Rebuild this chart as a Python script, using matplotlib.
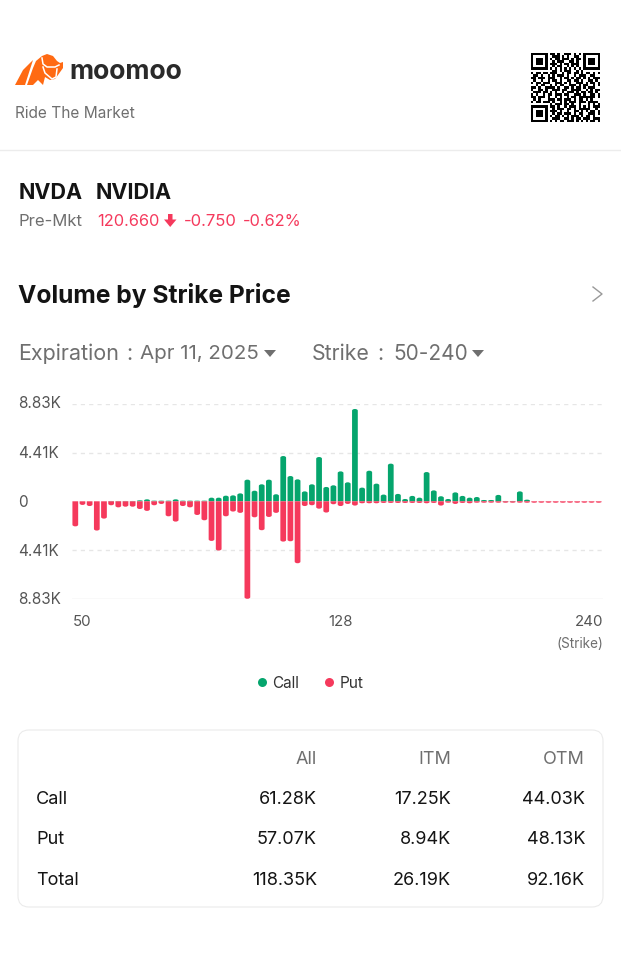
import matplotlib
matplotlib.use('Agg')
import matplotlib.pyplot as plt
import numpy as np
from matplotlib.patches import FancyBboxPatch, PathPatch, Polygon
from matplotlib.path import Path

plt.rcParams['font.family'] = ['Inter', 'Noto Sans CJK SC', 'DejaVu Sans']

GREEN = '#05A56D'
RED = '#F5395C'
DARK = '#141414'
GREY = '#6f6f6f'

# volumes in K, one entry per strike bar
call_vol = [0, 0, 0, 0, 0, .03, .03, .03, .03, .09, .18, .06, .06, .06, .18, .06, .06, .06, .06,
            .33, .33, .51, .54, .72, 1.96, .96, 1.54, 1.96, .64, 4.10, 2.29, 1.99, .90, 1.54, 4.01,
            1.30, 1.45, 2.71, 1.72, 8.36, 1.24, 2.77, 1.60, .61, 3.41, .67, .21, .49, .33, 2.65,
            .99, .46, .21, .81, .49, .33, .39, .12, .12, .58, .03, .03, .90, .15,
            0, 0, 0, 0, 0, 0, 0, 0, 0, 0]
put_vol = [2.27, .33, .43, 2.65, 1.57, .36, .55, .49, .49, .70, .87, .36, .24, 1.36, 1.84, .43, .55,
           1.24, 1.72, 3.59, 4.46, 1.36, .93, 1.05, 8.83, 1.45, 2.62, 1.42, 1.05, 3.65, 3.62, 5.61,
           .43, .36, .67, 1.02, .27, .43, .24, .39, .18, .18, .18, .15, .15, .15, .15, .15, .15, .18,
           .15, .39, .13, .24, .15, .18, .13, .13, .13, .13, .13, .13, .13, .13,
           .13, .13, .13, .13, .13, .13, .13, .13, .13, .13]
y_ticks = [8.83, 4.41, 0, -4.41, -8.83]
y_labels = ['8.83K', '4.41K', '0', '4.41K', '8.83K']

table_cols = ['All', 'ITM', 'OTM']
table_rows = ['Call', 'Put', 'Total']
table_vals = [['61.28K', '17.25K', '44.03K'],
              ['57.07K', '8.94K', '48.13K'],
              ['118.35K', '26.19K', '92.16K']]

qr_rows = [
    '#######.##.#..###.#.#.#######',
    '#.....#..###.#.#..##..#.....#',
    '#.###.#.#.##.###.#.##.#.###.#',
    '#.###.#..#.###..##.#..#.###.#',
    '#.###.#.###.#.##.###..#.###.#',
    '#.....#..#.##..#.#.#..#.....#',
    '#######.#.#.#.#.#.#.#.#######',
    '.........##.#.###..#.#.......',
    '#.##.##.###..#.##.##.#.##.#.#',
    '.##.#..#.#.###.#..#.###..##..',
    '##.###.###..#.##.#.##.#.#.###',
    '.#..#..#.##.#..##.##.#..##.#.',
    '#.##.###..###.#.#..###.#.##.#',
    '..#.##..#.#.##..###.#.##..#.#',
    '##.#..####.#..##.#.##.#.###..',
    '#..##.#..###.##..####..#.#.##',
    '.###.##.#.#..#.###.#.##.##.#.',
    '#.#..#.##.###.##..###.#..##.#',
    '##.###.#..#.#..#.##.#######.#',
    '.#.#...###.##.###.#.##.#.#...',
    '#.##.###.#..#.#.###.###.####.',
    '........#.###.##.#..#...#.#.#',
    '#######.##.#..#.###.#.#.#.###',
    '#.....#..#.###.##.#.#####..#.',
    '#.###.#.###.#..#..##.#.#.##.#',
    '#.###.#..#.##.###.#.##..###.#',
    '#.###.#.#.##.#.#.###.#.##.#..',
    '#.....#..###..##.#.##.###.###',
    '#######.#.#.##.###.#.#.#.##.#',
]

# logo outlines, in pixels of the figure
logo_leg = [(15, 85), (23, 70), (33, 60), (25, 85)]
logo_body = [(27, 85), (33, 68), (36, 61), (42, 56), (47, 54), (53, 56), (57, 61), (60, 63), (63, 62),
             (63, 68), (58, 75), (55, 79), (50, 80), (45, 77), (43, 85), (38, 80), (33, 85)]
logo_line1 = [(42, 58), (43, 64), (47, 67), (55, 67), (59, 65)]
logo_line2 = [(43, 67), (45, 73), (52, 79), (56, 77), (57, 69)]


def rounded_bar(ax, x, h, color, half=0.4, ry_max=0.25):
    # bar from 0 to h, outer end rounded
    if h == 0:
        return
    ry = min(abs(h), ry_max) * np.sign(h) * 0.6
    verts = [(x - half, 0), (x - half, h - ry), (x - half, h), (x, h), (x + half, h), (x + half, h - ry),
             (x + half, 0), (x - half, 0)]
    codes = [Path.MOVETO, Path.LINETO, Path.CURVE3, Path.CURVE3, Path.CURVE3, Path.CURVE3, Path.LINETO,
             Path.CLOSEPOLY]
    ax.add_patch(PathPatch(Path(verts, codes), facecolor=color, edgecolor='none', zorder=3))


W, H = 621, 955
fig = plt.figure(figsize=(W / 100, H / 100), dpi=100, facecolor='white')

# page layer, works in pixels
page = fig.add_axes([0, 0, 1, 1])
page.axis('off')

qr = np.array([[0 if c == '#' else 1 for c in r[:29].ljust(29, '.')] for r in qr_rows])
page.imshow(qr, cmap='gray', extent=(531, 600, 122, 53), aspect='auto', interpolation='nearest')
page.set_xlim(0, W)
page.set_ylim(H, 0)

page.add_patch(Polygon(logo_leg, color='#FF6A13', lw=0))
page.add_patch(Polygon(logo_body, color='#FF6A13', lw=0))
page.plot(*zip(*logo_line1), color='white', lw=1.1, solid_joinstyle='round')
page.plot(*zip(*logo_line2), color='white', lw=1.1, solid_joinstyle='round')
page.text(69, 72, 'moomoo', fontsize=19, fontweight='bold', color='#2a2a2a', va='center')
page.text(15, 113, 'Ride The Market', fontsize=11.1, color=GREY, va='center')
page.plot([0, W], [150, 150], color='#ececec', lw=1)

page.text(19, 193, 'NVDA', fontsize=15.5, fontweight='bold', color=DARK, va='center')
page.text(96, 193, 'NVIDIA', fontsize=15.5, fontweight='bold', color=DARK, va='center')
page.text(19, 221, 'Pre-Mkt', fontsize=12, color=GREY, va='center')
page.text(97, 221, '120.660', fontsize=11.8, color=RED, va='center')
page.add_patch(Polygon([(168, 214), (172.5, 214), (172.5, 219.5), (176.5, 219.5), (170.2, 227), (164, 219.5), (168, 219.5)],
                       color=RED, lw=0))
page.text(184, 221, '-0.750', fontsize=12, color=RED, va='center')
page.text(243, 221, '-0.62%', fontsize=11.8, color=RED, va='center')

page.text(18, 295, 'Volume by Strike Price', fontsize=17.7, fontweight='bold', color=DARK, va='center')
page.plot([593, 602, 593], [287, 294, 301], color='#999999', lw=1)

page.text(18, 354, 'Expiration', fontsize=15.5, color=GREY, va='center')
page.text(129, 354, ':', fontsize=15.5, color=GREY, va='center', ha='center')
page.text(140, 354, 'Apr 11, 2025', fontsize=14.8, color=GREY, va='center')
page.text(312, 354, 'Strike', fontsize=15.3, color=GREY, va='center')
page.text(380, 354, ':', fontsize=15.5, color=GREY, va='center', ha='center')
page.text(393, 354, '50-240', fontsize=15, color=GREY, va='center')
page.add_patch(Polygon([(264, 350), (276, 350), (270, 357)], color=GREY, lw=0))
page.add_patch(Polygon([(472, 350), (484, 350), (478, 357)], color=GREY, lw=0))

# chart
ax = fig.add_axes([72 / W, 1 - 598.8 / H, (603 - 72) / W, 195 / H])
ax.set_xlim(-0.46, 73.6)
ax.set_ylim(-8.83, 8.83)
ax.axis('off')
for t in y_ticks[:2] + y_ticks[3:4]:
    ax.axhline(t, color='#e6e6e6', lw=1, dashes=(3, 3), zorder=1)
ax.axhline(-8.83, color='#e2e2e2', lw=1, zorder=1)
for i in range(len(call_vol)):
    rounded_bar(ax, i, call_vol[i], GREEN)
    rounded_bar(ax, i, -put_vol[i], RED)

for lab, y in zip(y_labels, [403, 453, 502, 551, 599]):
    page.text(18, y, lab, fontsize=11, color='#555555', va='center')
page.text(73, 622, '50', fontsize=10.8, color='#555555', va='center')
page.text(341, 622, '128', fontsize=10.8, color='#555555', va='center', ha='center')
page.text(603, 622, '240', fontsize=10.8, color='#555555', va='center', ha='right')
page.text(603, 644, '(Strike)', fontsize=9.8, color=GREY, va='center', ha='right')

page.scatter([262], [682], s=42, color=GREEN, lw=0)
page.text(272, 683, 'Call', fontsize=11, color='#333333', va='center')
page.scatter([329], [682], s=42, color=RED, lw=0)
page.text(340, 683, 'Put', fontsize=11, color='#333333', va='center')

# table
page.add_patch(FancyBboxPatch((18, 730), 585, 177, boxstyle='round,pad=0,rounding_size=11',
                              facecolor='white', edgecolor='#ebebeb', lw=0.8))
col_x = [317, 451, 585]
row_y = [799, 839, 880]
for x, name in zip(col_x, table_cols):
    page.text(x, 759, name, fontsize=13, color=GREY, va='center', ha='right')
for y, name, vals in zip(row_y, table_rows, table_vals):
    page.text(36, y, name, fontsize=13, color=DARK, va='center')
    for x, v in zip(col_x, vals):
        page.text(x, y, v, fontsize=13, color=DARK, va='center', ha='right')

plt.savefig('out.png', dpi=100)
